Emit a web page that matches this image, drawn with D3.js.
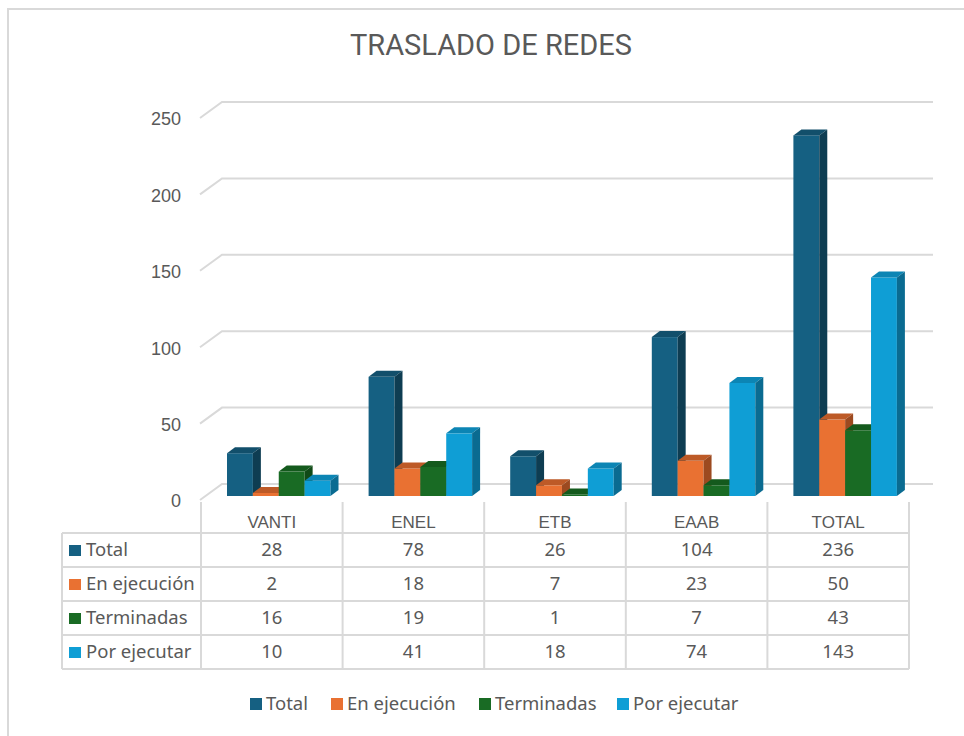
<!DOCTYPE html>
<html>
<head>
  <meta charset="utf-8">
  <title>Traslado de redes</title>
  <style>
    body { margin: 0; background: #fff; }
    svg { display: block; }
  </style>
</head>
<body>

<svg width="964" height="736" viewBox="0 0 964 736"></svg>

<script src="https://d3js.org/d3.v7.min.js"></script>
<script>
const categories = [ 'VANTI', 'ENEL', 'ETB', 'EAAB', 'TOTAL' ];
const seriesNames = [ 'Total', 'En ejecución', 'Terminadas', 'Por ejecutar' ];
const total = [ 28, 78, 26, 104, 236 ];
const enEjecucion = [ 2, 18, 7, 23, 50 ];
const terminadas = [ 16, 19, 1, 7, 43 ];
const porEjecutar = [ 10, 41, 18, 74, 143 ];
const yTicks = [ 0, 50, 100, 150, 200, 250 ];

const seriesValues = [ total, enEjecucion, terminadas, porEjecutar ];

function main () {
  const svg = d3.select('svg');
  const textColor = '#595959';
  const gridColor = '#d9d9d9';
  const axisFont = '"Liberation Sans", Arial, sans-serif';
  const tableFont = '"Noto Sans", sans-serif';

  // front, top, side colours per series
  const colors = [
    { front: '#156082', top: '#124f6b', side: '#0e3d52' },
    { front: '#e97132', top: '#bd5a27', side: '#9c4a20' },
    { front: '#196b24', top: '#145a1d', side: '#104a17' },
    { front: '#0f9ed5', top: '#0c85b4', side: '#0a6b91' },
  ];

  // chart frame
  svg.append('path')
    .attr('d', 'M8,740 V9 H970')
    .attr('fill', 'none')
    .attr('stroke', gridColor)
    .attr('stroke-width', 2);

  // title
  svg.append('text')
    .attr('x', 491)
    .attr('y', 55)
    .attr('text-anchor', 'middle')
    .attr('font-family', 'Roboto, sans-serif')
    .attr('font-size', '29px')
    .attr('fill', textColor)
    .text('TRASLADO DE REDES');

  // scales (bar plane), depth offsets for walls and bars
  const x = d3.scaleBand().domain(categories).range([ 201, 909 ]);
  const inner = d3.scaleBand().domain(seriesNames).range([ 26, 129.5 ]);
  const y = d3.scaleLinear().domain([ 0, 250 ]).range([ 496, 114 ]);
  const back = { dx: 17, dy: -12 };
  const front = { dx: -1, dy: 4 };
  const barDepth = { dx: 8, dy: -6 };
  const wallLeft = 201;
  const wallRight = 933;

  // gridlines: side wall diagonal + back wall line
  const grid = svg.append('g');
  yTicks.forEach(t => {
    const yf = y(t) + front.dy;
    const yb = y(t) + back.dy;
    grid.append('path')
      .attr('d', `M${wallLeft - 1},${yf} L${wallLeft + back.dx + 4},${yb} H${wallRight}`)
      .attr('fill', 'none')
      .attr('stroke', gridColor)
      .attr('stroke-width', 2);
    grid.append('text')
      .attr('x', 181)
      .attr('y', yf + 1)
      .attr('dy', '0.35em')
      .attr('text-anchor', 'end')
      .attr('font-family', axisFont)
      .attr('font-size', '18px')
      .attr('fill', textColor)
      .text(t);
  });

  // 3d bars, drawn left to right so right bars cover left sides
  const bars = svg.append('g');
  categories.forEach((c, ci) => {
    seriesNames.forEach((s, si) => {
      const v = seriesValues[si][ci];
      const x0 = x(c) + inner(s);
      const x1 = x0 + inner.bandwidth();
      const y0 = y(0);
      const y1 = y(v);
      const col = colors[si];
      const g = bars.append('g');
      g.append('rect')
        .attr('x', x0)
        .attr('y', y1)
        .attr('width', x1 - x0)
        .attr('height', y0 - y1)
        .attr('fill', col.front);
      g.append('path')
        .attr('d', `M${x0},${y1} L${x0 + barDepth.dx},${y1 + barDepth.dy} L${x1 + barDepth.dx},${y1 + barDepth.dy} L${x1},${y1} Z`)
        .attr('fill', col.top);
      g.append('path')
        .attr('d', `M${x1},${y1} L${x1 + barDepth.dx},${y1 + barDepth.dy} L${x1 + barDepth.dx},${y0 + barDepth.dy} L${x1},${y0} Z`)
        .attr('fill', col.side);
    });
  });

  // data table
  const rowTop = 533;
  const rowH = 34;
  const tableLeft = 62;
  const tableTop = 502;
  const table = svg.append('g');
  const tableBottom = rowTop + rowH * seriesNames.length;

  // vertical lines
  x.domain().concat([ null ]).forEach(c => {
    const xv = c === null ? x.range()[1] : x(c);
    table.append('line')
      .attr('x1', xv).attr('x2', xv)
      .attr('y1', tableTop).attr('y2', tableBottom)
      .attr('stroke', gridColor).attr('stroke-width', 2);
  });
  table.append('line')
    .attr('x1', tableLeft).attr('x2', tableLeft)
    .attr('y1', rowTop).attr('y2', tableBottom)
    .attr('stroke', gridColor).attr('stroke-width', 2);

  // horizontal lines
  d3.range(seriesNames.length + 1).forEach(i => {
    table.append('line')
      .attr('x1', tableLeft).attr('x2', x.range()[1])
      .attr('y1', rowTop + i * rowH).attr('y2', rowTop + i * rowH)
      .attr('stroke', gridColor).attr('stroke-width', 2);
  });

  // category header
  table.selectAll('.cat').data(categories).enter()
    .append('text')
      .attr('class', 'cat')
      .attr('x', d => x(d) + x.bandwidth() / 2)
      .attr('y', 522)
      .attr('dy', '0.35em')
      .attr('text-anchor', 'middle')
      .attr('font-family', axisFont)
      .attr('font-size', '17px')
      .attr('fill', textColor)
      .text(d => d);

  // rows
  seriesNames.forEach((s, si) => {
    const cy = rowTop + si * rowH + rowH / 2;
    table.append('rect')
      .attr('x', 69)
      .attr('y', cy - 5)
      .attr('width', 12)
      .attr('height', 11)
      .attr('fill', colors[si].front);
    table.append('text')
      .attr('x', 86)
      .attr('y', cy)
      .attr('dy', '0.35em')
      .attr('font-family', tableFont)
      .attr('font-size', '18.5px')
      .attr('fill', textColor)
      .text(s);
    categories.forEach((c, ci) => {
      table.append('text')
        .attr('x', x(c) + x.bandwidth() / 2)
        .attr('y', cy)
        .attr('dy', '0.35em')
        .attr('text-anchor', 'middle')
        .attr('font-family', tableFont)
        .attr('font-size', '18.5px')
        .attr('fill', textColor)
        .text(seriesValues[si][ci]);
    });
  });

  // legend
  const legendX = [ 250, 331, 479, 617 ];
  const legend = svg.append('g');
  seriesNames.forEach((s, si) => {
    legend.append('rect')
      .attr('x', legendX[si])
      .attr('y', 698)
      .attr('width', 12)
      .attr('height', 12)
      .attr('fill', colors[si].front);
    legend.append('text')
      .attr('x', legendX[si] + 16)
      .attr('y', 704)
      .attr('dy', '0.35em')
      .attr('font-family', tableFont)
      .attr('font-size', '18.5px')
      .attr('fill', textColor)
      .text(s);
  });
}
main();
</script>

</body>
</html>
